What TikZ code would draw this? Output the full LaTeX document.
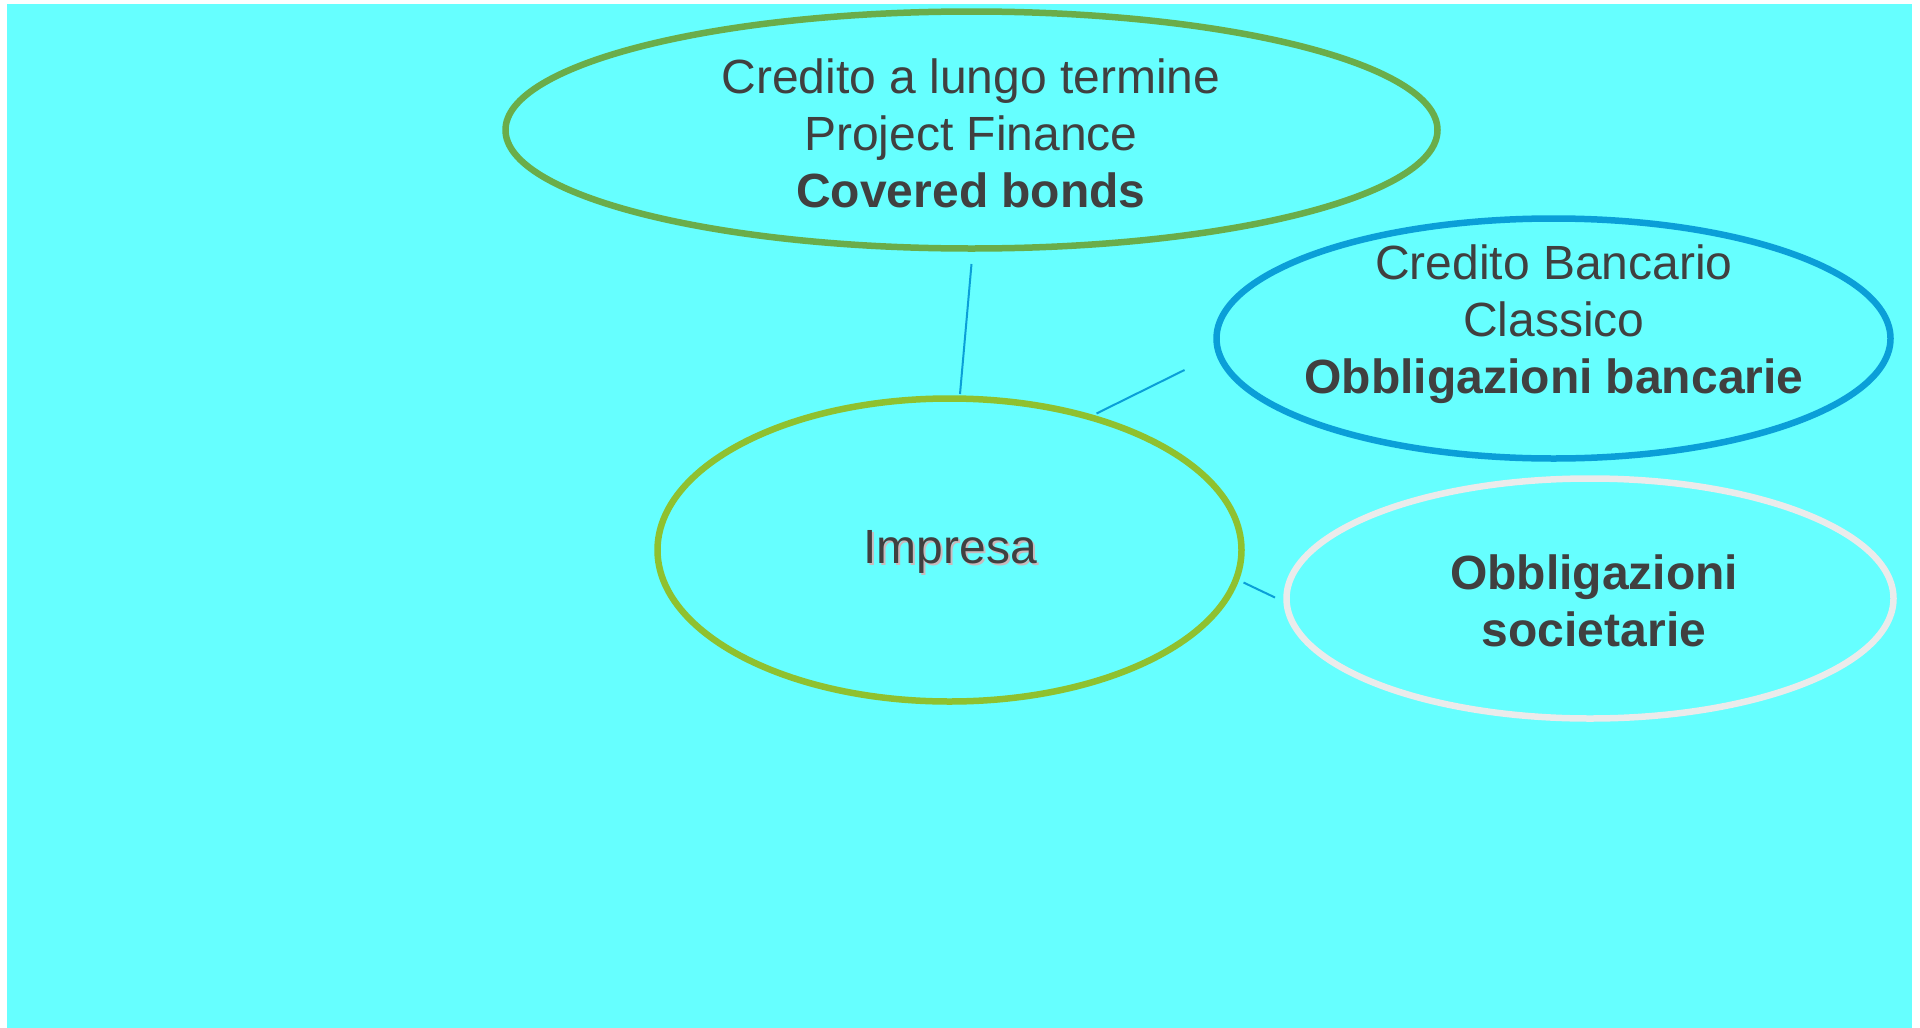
\documentclass[tikz,border=0pt]{standalone}
\usepackage{fontspec}
\setmainfont{Liberation Sans}
\usetikzlibrary{shapes.geometric}
\definecolor{bgcyan}{HTML}{66FFFF}
\definecolor{txtgray}{HTML}{404040}
\definecolor{greenA}{HTML}{6AAD4A}
\definecolor{greenB}{HTML}{8FC12F}
\definecolor{blueA}{HTML}{0A9FD8}
\definecolor{greyA}{HTML}{EBEBEB}
\definecolor{shadowc}{HTML}{C9B9BC}
\tikzset{
  oval/.style={ellipse, draw, line width=6.5pt, inner sep=0pt},
  lbl/.style={text=txtgray, align=center, inner sep=0pt, font=\fontsize{48}{57}\selectfont},
  conn/.style={draw=blueA, line width=2pt}
}
\begin{document}
\begin{tikzpicture}[x=1pt,y=-1pt]
\useasboundingbox (0,0) rectangle (1920,1028);
\fill[white] (0,0) rectangle (1920,1028);
\fill[bgcyan] (7,4) rectangle (1912,1028);

\node[oval, draw=greenA, minimum width=932pt, minimum height=237pt] (top) at (971.5,130) {};
\node[oval, draw=blueA, minimum width=674pt, minimum height=240pt] (bank) at (1553.5,338.5) {};
\node[oval, draw=greenB, minimum width=584pt, minimum height=303pt] (imp) at (949.5,550) {};
\node[oval, draw=greyA, minimum width=607pt, minimum height=240pt] (soc) at (1590,598.5) {};

\node[lbl] (toptxt) at (971,133) {Credito a lungo termine\\Project Finance\\\textbf{Covered bonds}};
\node[lbl] (banktxt) at (1554,324) {Credito Bancario\\Classico\\\textbf{Obbligazioni bancarie}};
\node[lbl] (soctxt) at (1594,601) {\textbf{Obbligazioni}\\\textbf{societarie}};
\node[lbl, text=shadowc] (impshadow) at (952,554) {Impresa};
\node[lbl] (imptxt) at (950,552) {Impresa};

\coordinate (c1a) at (971.5,264);
\coordinate (c1b) at (960,394);
\coordinate (c2a) at (1096.5,413.5);
\coordinate (c2b) at (1184.5,370);
\coordinate (c3a) at (1243.5,582.5);
\coordinate (c3b) at (1275,597.5);
\draw[conn] (c1a) -- (c1b);
\draw[conn] (c2a) -- (c2b);
\draw[conn] (c3a) -- (c3b);
\end{tikzpicture}
\end{document}
